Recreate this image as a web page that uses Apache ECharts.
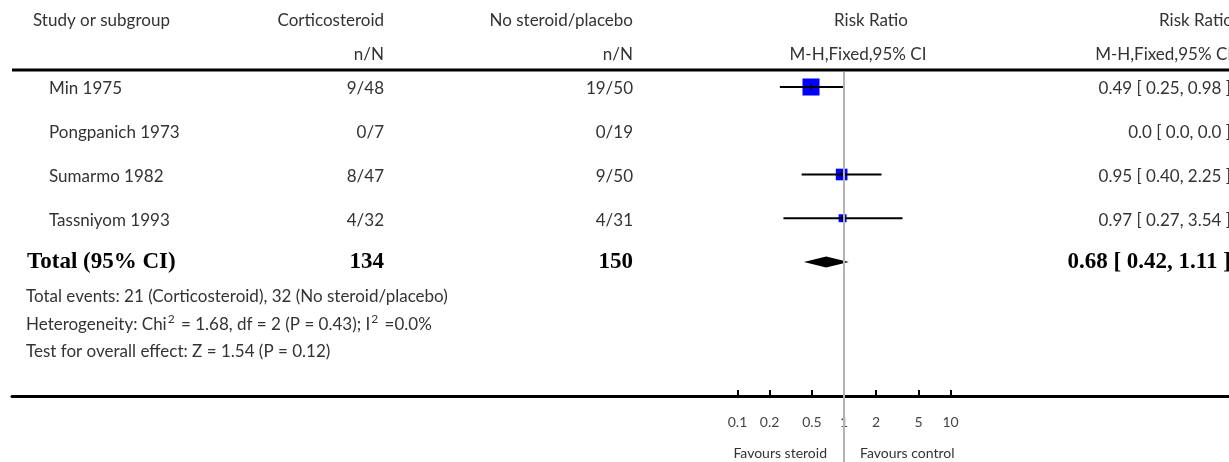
<!DOCTYPE html>
<html><head><meta charset="utf-8">
<script src="https://cdn.jsdelivr.net/npm/echarts@6/dist/echarts.min.js"></script>
<style>html,body{margin:0;padding:0;background:#fff;overflow:hidden}#c{width:1229px;height:462px}</style>
</head><body><div id="c"></div>
<script>
// ---------- data ----------
const studies = ['Min 1975', 'Pongpanich 1973', 'Sumarmo 1982', 'Tassniyom 1993'];
const steroidEvents = [9, 0, 8, 4];
const steroidTotal = [48, 7, 47, 32];
const controlEvents = [19, 0, 9, 4];
const controlTotal = [50, 19, 50, 31];
const rr = [0.49, 0, 0.95, 0.97];
const rrLow = [0.25, 0, 0.40, 0.27];
const rrHigh = [0.98, 0, 2.25, 3.54];
const pooled = [0.68, 0.42, 1.11];
const pooledTotals = [134, 150];
const tickValues = [0.1, 0.2, 0.5, 1, 2, 5, 10];
const tickLabels = ['0.1', '0.2', '0.5', '1', '2', '5', '10'];
const heterogeneity = 'Heterogeneity: Chi{s|2} = 1.68, df = 2 (P = 0.43); I{s|2} =0.0%';
const overallTest = 'Test for overall effect: Z = 1.54 (P = 0.12)';

// ---------- layout ----------
const W = 1229, H = 462;
const plotLeft = 12, plotRight = 1229;
const oneX = 844, decade = 106.5;
const xMin = Math.pow(10, (plotLeft - oneX) / decade);
const xMax = Math.pow(10, (plotRight - oneX) / decade);
const rowTop = 72, firstRowY = 87, rowH = 43.75, axisY = 396;
const yMin = -(firstRowY - rowTop) / rowH;
const yMax = (H - firstRowY) / rowH;
const FONT = 'Lato';
const SERIF = '"Liberation Serif", "DejaVu Serif", serif';
const TXT = '#333';
const BODY = 17;
const colStudy = 49, colCort = 384, colCtrl = 633, colRR = 1231;

// M-H weights (percent)
const mhW = studies.map((s, i) => controlEvents[i] * steroidTotal[i] / (steroidTotal[i] + controlTotal[i]));
const mhSum = mhW.reduce((a, b) => a + b, 0);
const weightPct = mhW.map(w => 100 * w / mhSum);

const fmt = v => v === 0 ? '0.0' : v.toFixed(2);
const rrLabel = i => `${fmt(rr[i])} [ ${fmt(rrLow[i])}, ${fmt(rrHigh[i])} ]`;

function txt(x, y, text, align, opt) {
  opt = opt || {};
  const st = {
    x: x, y: y, text: text, align: align, verticalAlign: 'middle',
    fill: opt.fill || TXT, fontSize: opt.size || BODY,
    fontFamily: opt.family || FONT, fontWeight: opt.weight || 'normal'
  };
  if (opt.rich) st.rich = opt.rich;
  return { type: 'text', silent: true, style: st };
}

const markerData = [];
studies.forEach((s, i) => { if (rr[i] > 0) markerData.push([rr[i], rrLow[i], rrHigh[i], i, weightPct[i]]); });
const tableData = studies.map((s, i) => [1, i]).concat([[1, studies.length]]);

const option = {
  animation: false,
  grid: [
    { left: plotLeft, right: W - plotRight, top: rowTop, bottom: 0, outerBoundsMode: 'none', containLabel: false },
    { left: plotLeft, right: W - plotRight, top: axisY - 50, bottom: H - axisY, outerBoundsMode: 'none', containLabel: false }
  ],
  xAxis: [
    { type: 'log', logBase: 10, min: xMin, max: xMax, gridIndex: 0, show: false },
    {
      type: 'log', logBase: 10, min: xMin, max: xMax, gridIndex: 1, position: 'bottom',
      axisLine: { show: true, lineStyle: { color: '#000', width: 3 } },
      axisTick: { show: true, inside: true, length: 6, customValues: tickValues, lineStyle: { color: '#000', width: 2 } },
      axisLabel: {
        show: true, customValues: tickValues, margin: 19, fontSize: 14, fontFamily: FONT, color: '#444',
        formatter: v => { const k = tickValues.findIndex(t => Math.abs(t - v) < 1e-9 * Math.max(1, t)); return k >= 0 ? tickLabels[k] : ''; }
      },
      splitLine: { show: false }, minorTick: { show: false }
    }
  ],
  yAxis: [
    { type: 'value', inverse: true, min: yMin, max: yMax, gridIndex: 0, show: false },
    { type: 'value', min: 0, max: 1, gridIndex: 1, show: false }
  ],
  series: [
    {
      type: 'custom', name: 'reference', xAxisIndex: 0, yAxisIndex: 0, data: [],
      renderItem: () => null,
      markLine: {
        silent: true, symbol: ['none', 'none'], label: { show: false },
        lineStyle: { color: '#b4b4b4', width: 2, type: 'solid' },
        data: [{ xAxis: 1 }]
      }
    },
    {
      type: 'custom', name: 'studies', xAxisIndex: 0, yAxisIndex: 0,
      encode: { x: [0, 1, 2], y: 3 },
      data: markerData,
      renderItem: function (params, api) {
        const row = api.value(3);
        const p = api.coord([api.value(0), row]);
        const l = api.coord([api.value(1), row]);
        const h = api.coord([api.value(2), row]);
        const s = 2.21 * Math.sqrt(api.value(4));
        return {
          type: 'group', children: [
            { type: 'rect', shape: { x: p[0] - s / 2, y: p[1] - s / 2, width: s, height: s }, style: { fill: '#0000ff' } },
            { type: 'line', shape: { x1: l[0], y1: p[1], x2: h[0], y2: p[1] }, style: { stroke: '#000', lineWidth: 2 } },
            { type: 'line', shape: { x1: p[0], y1: p[1] - 3, x2: p[0], y2: p[1] + 3 }, style: { stroke: '#000', lineWidth: 1 } }
          ]
        };
      }
    },
    {
      type: 'custom', name: 'pooled', xAxisIndex: 0, yAxisIndex: 0,
      encode: { x: [0, 1, 2], y: 3 },
      data: [[pooled[0], pooled[1], pooled[2], studies.length]],
      renderItem: function (params, api) {
        const row = api.value(3);
        const p = api.coord([api.value(0), row]);
        const l = api.coord([api.value(1), row]);
        const h = api.coord([api.value(2), row]);
        const d = 5.5;
        return {
          type: 'polygon',
          shape: { points: [[l[0], p[1]], [p[0], p[1] - d], [h[0], p[1]], [p[0], p[1] + d]] },
          style: { fill: '#000' }
        };
      }
    },
    {
      type: 'custom', name: 'table', xAxisIndex: 0, yAxisIndex: 0,
      encode: { x: 0, y: 1 },
      data: tableData,
      renderItem: function (params, api) {
        const i = params.dataIndex;
        const y = api.coord([1, api.value(1)])[1];
        if (i < studies.length) {
          const ty = y + 2;
          return {
            type: 'group', children: [
              txt(colStudy, ty, studies[i], 'left'),
              txt(colCort, ty, steroidEvents[i] + '/' + steroidTotal[i], 'right'),
              txt(colCtrl, ty, controlEvents[i] + '/' + controlTotal[i], 'right'),
              txt(colRR, ty, rrLabel(i), 'right')
            ]
          };
        }
        const b = { family: SERIF, weight: 'bold', size: 23, fill: '#000' };
        return {
          type: 'group', children: [
            txt(27, y, 'Total (95% CI)', 'left', b),
            txt(colCort, y, String(pooledTotals[0]), 'right', b),
            txt(colCtrl, y, String(pooledTotals[1]), 'right', b),
            txt(colRR, y, `${pooled[0].toFixed(2)} [ ${pooled[1].toFixed(2)}, ${pooled[2].toFixed(2)} ]`, 'right', b)
          ]
        };
      }
    }
  ],
  graphic: [
    txt(33, 21, 'Study or subgroup', 'left'),
    txt(colCort, 21, 'Corticosteroid', 'right'),
    txt(colCtrl, 21, 'No steroid/placebo', 'right'),
    txt(871, 21, 'Risk Ratio', 'center'),
    txt(1233, 21, 'Risk Ratio', 'right'),
    txt(colCort, 55, 'n/N', 'right'),
    txt(colCtrl, 55, 'n/N', 'right'),
    txt(858, 55, 'M-H,Fixed,95% CI', 'center'),
    txt(1232, 55, 'M-H,Fixed,95% CI', 'right'),
    { type: 'line', silent: true, shape: { x1: plotLeft, y1: 70, x2: plotRight, y2: 70 }, style: { stroke: '#000', lineWidth: 3 } },
    txt(26, 297, `Total events: ${steroidEvents.reduce((a, b) => a + b, 0)} (Corticosteroid), ${controlEvents.reduce((a, b) => a + b, 0)} (No steroid/placebo)`, 'left'),
    txt(26, 325, heterogeneity, 'left', { rich: { s: { fontSize: 12, fontFamily: FONT, fill: TXT, verticalAlign: 'top', padding: [0, 2, 11, 1] } } }),
    txt(26, 352, overallTest, 'left'),
    txt(oneX - 17, 453, 'Favours steroid', 'right', { size: 14 }),
    txt(oneX + 16, 453, 'Favours control', 'left', { size: 14 })
  ]
};

const chart = echarts.init(document.getElementById('c'), null, { renderer: 'canvas', width: W, height: H });
chart.setOption(option);
</script>
</body></html>
